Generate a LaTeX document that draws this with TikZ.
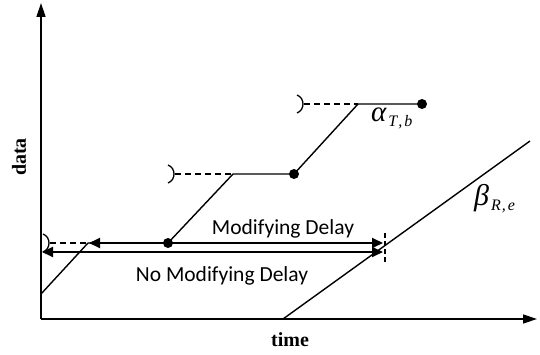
\documentclass[tikz,border=0pt]{standalone}
\usepackage{fontspec}
\setmainfont{Liberation Serif}
\newfontfamily\carl{Carlito}
\usetikzlibrary{arrows.meta}
\begin{document}
\begin{tikzpicture}[x=1pt,y=-1pt,
  axis/.style={line width=1.4pt,-{Triangle[length=14pt,width=9pt]}},
  curve/.style={line width=1.4pt},
  dsh/.style={line width=1.3pt,dash pattern=on 6pt off 4pt},
  tickmark/.style={line width=1.1pt,dash pattern=on 5pt off 3pt},
  brk/.style={line width=1.3pt},
  dlay/.style={line width=1.8pt,{Triangle[length=11pt,width=10pt]}-{Triangle[length=11pt,width=10pt]}},
  dot/.style={circle,fill=black,inner sep=0pt,minimum size=10pt},
  lbl/.style={font=\carl\fontsize{21.5}{24}\selectfont, inner sep=0pt},
  axl/.style={font=\bfseries\fontsize{20}{22}\selectfont, inner sep=0pt},
  greek/.style={inner sep=0pt}]
\useasboundingbox (0,0) rectangle (540,355);
% axes
\coordinate (O) at (41,319);
\coordinate (Ytip) at (41,3);
\coordinate (Xtip) at (537,319);
\draw[axis] (O) -- (Ytip);
\draw[axis] (O) -- (Xtip);
\node[axl, rotate=90] (ylab) at (19,157) {data};
\node[axl] (xlab) at (290,340) {time};
% alpha curve
\coordinate (a0) at (41,294);
\coordinate (a1) at (88,243);
\node[dot] (d1) at (168,243) {};
\coordinate (a2) at (233,174);
\node[dot] (d2) at (294,174) {};
\coordinate (a3) at (358,104);
\node[dot] (d3) at (422,104) {};
\draw[curve] (a0) -- (a1) -- (d1.center) -- (a2) -- (d2.center) -- (a3) -- (d3.center);
% brackets and dashed
\coordinate (b1) at (50,243);
\coordinate (b2) at (175,174);
\coordinate (b3) at (304,104);
\draw[brk] (43,234) .. controls (51,237) and (51,249) .. (43,252);
\draw[brk] (168,165) .. controls (176,168) and (176,180) .. (168,183);
\draw[brk] (297,95) .. controls (305,98) and (305,110) .. (297,113);
\draw[dsh] (b1) -- (a1);
\draw[dsh] (b2) -- (a2);
\draw[dsh] (b3) -- (a3);
% beta curve
\coordinate (c0) at (283,319);
\coordinate (c1) at (530,141);
\draw[curve] (c0) -- (c1);
% delays
\coordinate (m0) at (89,243);
\coordinate (m1) at (383,243);
\coordinate (n0) at (42,252);
\coordinate (n1) at (383,252);
\draw[dlay] (m0) -- (m1);
\draw[dlay] (n0) -- (n1);
\coordinate (k0) at (385,233);
\coordinate (k1) at (385,263);
\draw[tickmark] (k0) -- (k1);
\node[lbl] (mtext) at (283,229) {Modifying Delay};
\node[lbl] (ntext) at (222,276) {No Modifying Delay};
% labels
\node[greek, anchor=base west] (alab) at (371,122) {\fontsize{29}{30}\selectfont\itshape α\kern2pt\raisebox{-5pt}{\fontsize{16}{17}\selectfont T\kern1pt,\kern2pt b}};
\node[greek, anchor=base west] (blab) at (474,206) {\fontsize{30}{32}\selectfont\itshape β\kern2pt\raisebox{-5pt}{\fontsize{16}{17}\selectfont R\kern1pt,\kern2pt e}};
\end{tikzpicture}
\end{document}
